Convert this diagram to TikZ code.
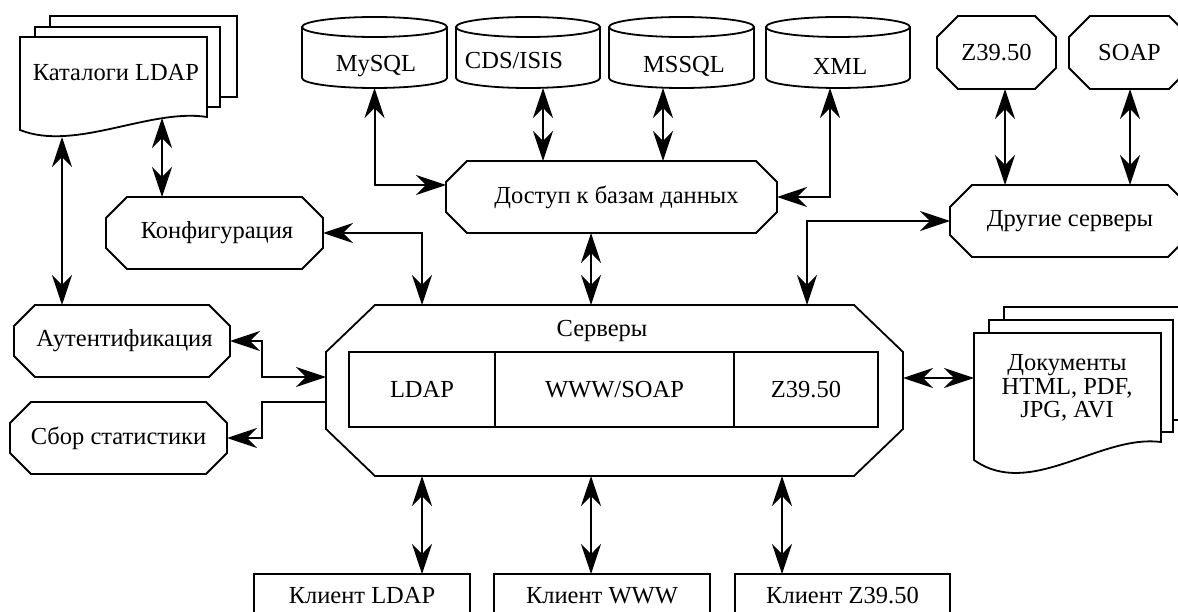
\documentclass[tikz,border=0pt]{standalone}
\usepackage{fontspec}
\setmainfont{Liberation Serif}
\usetikzlibrary{arrows.meta,calc}
\tikzset{
  outline/.style={line width=1.8pt},
  shapebox/.style 2 args={minimum width=#1pt, minimum height=#2pt, inner sep=0pt, outer sep=0pt},
  bighead/.tip={Stealth[length=30pt,width=20pt,inset=10pt]},
  thickconn/.style={line width=2pt, bighead-bighead},
  thinconn/.style={line width=1.4pt, bighead-bighead},
  oneway/.style={line width=2pt, -bighead},
  txt/.style={inner sep=0pt, align=center},
}
\newcommand\octpath[3]{%
  \draw[outline] ($(#1.north west)+(#2,0)$) -- ($(#1.north east)+(-#2,0)$)
    -- ($(#1.north east)+(0,#3)$) -- ($(#1.south east)+(0,-#3)$)
    -- ($(#1.south east)+(-#2,0)$) -- ($(#1.south west)+(#2,0)$)
    -- ($(#1.south west)+(0,-#3)$) -- ($(#1.north west)+(0,#3)$) -- cycle;}
\newcommand\dbcyl[2]{%
  \pgfmathsetmacro\cylC{(#1+#2)/2}%
  \pgfmathsetmacro\cylX{(#2-#1)/2}%
  \pgfmathsetmacro\cylK{0.5523*(#2-#1)/2}%
  \draw[outline] (#1,27) -- (#1,78) .. controls (#1,83.52) and (\cylC-\cylK,88) .. (\cylC,88)
    .. controls (\cylC+\cylK,88) and (#2,83.52) .. (#2,78) -- (#2,27);
  \draw[outline] (\cylC,27) ellipse [x radius=\cylX, y radius=10];}
\begin{document}
\begin{tikzpicture}[x=1pt,y=-1pt,font=\fontsize{24.5}{23.5}\selectfont]
\useasboundingbox (0,0) rectangle (1178,612);

% ---- Каталоги LDAP (multi-document)
\draw[outline,fill=white] (50,16) rectangle (237,97);
\draw[outline,fill=white] (35,27) rectangle (220,107);
\draw[outline,fill=white] (20,37) -- (207,37) -- (207,117)
  .. controls (150,108) and (75,152) .. (20,130) -- cycle;
\node[shapebox={187}{100}] (katalog) at (113.5,87) {};
\node[txt] (katalogT) at (116,73) {Каталоги LDAP};

% ---- Документы (multi-document)
\draw[outline,fill=white] (1004,307) rectangle (1192,420);
\draw[outline,fill=white] (989,320) rectangle (1173,432);
\draw[outline,fill=white] (974,333) -- (1161,333) -- (1161,442)
  .. controls (1100,434) and (1030,500) .. (974,460) -- cycle;
\node[shapebox={187}{141}] (docs) at (1067.5,403.5) {};
\node[txt] (docsT) at (1067,388) {Документы\\HTML, PDF,\\JPG, AVI};

% ---- databases
\dbcyl{302}{447}
\node[shapebox={145}{71}] (mysql) at (374.5,52.5) {};
\node[txt] (mysqlT) at (376,66) {MySQL};
\dbcyl{456}{600}
\node[shapebox={144}{71}] (cds) at (528,52.5) {};
\node[txt] (cdsT) at (514,61) {CDS/ISIS};
\dbcyl{609}{754}
\node[shapebox={145}{71}] (mssql) at (681.5,52.5) {};
\node[txt] (mssqlT) at (684,66) {MSSQL};
\dbcyl{766}{910}
\node[shapebox={144}{71}] (xml) at (838,52.5) {};
\node[txt] (xmlT) at (840,66) {XML};

% ---- octagons
\node[shapebox={119}{73}] (ztop) at (996.5,52.5) {Z39.50};
\octpath{ztop}{21}{21}
\node[shapebox={121}{73}] (soap) at (1129.5,52.5) {SOAP};
\octpath{soap}{21}{21}
\node[shapebox={331}{72}] (dost) at (611.5,197) {\hspace*{10pt}Доступ к базам данных};
\octpath{dost}{21}{21}
\node[shapebox={240}{72}] (drugie) at (1070,221) {Другие серверы};
\octpath{drugie}{22}{22}
\node[shapebox={217}{72}] (konf) at (214.5,233) {\hspace*{5pt}Конфигурация};
\octpath{konf}{21}{21}
\node[shapebox={216}{72}] (auth) at (122,341) {\hspace*{5pt}Аутентификация};
\octpath{auth}{21}{21}
\node[shapebox={217}{72}] (stat) at (118.5,438) {Сбор статистики};
\octpath{stat}{21}{21}

% ---- Серверы
\node[shapebox={577}{171}] (serv) at (614.5,390.5) {};
\octpath{serv}{49}{47}
\node[txt] (servT) at (602,331) {Серверы};
\node[shapebox={146}{75},draw,outline] (ldap) at (422,389.5) {LDAP};
\node[shapebox={239}{75},draw,outline] (www) at (614.5,389.5) {WWW/SOAP};
\node[shapebox={144}{75},draw,outline] (zsrv) at (806,389.5) {Z39.50};

% ---- clients
\node[shapebox={216}{44},draw,outline] (cl1) at (362,596) {Клиент LDAP};
\node[shapebox={216}{44},draw,outline] (cl2) at (602,596) {Клиент WWW};
\node[shapebox={215}{44},draw,outline] (cl3) at (842.5,596) {Клиент Z39.50};

% ---- connectors
\draw[thickconn] ([xshift=-51.5pt]katalog.south) -- ([xshift=-51.5pt]katalog.south |- auth.north);
\draw[thinconn] ([xshift=48.5pt,yshift=19pt]katalog.south) -- ([xshift=48.5pt]katalog.south |- konf.north);
\draw[thickconn] (mysql.south) |- ([yshift=12pt]dost.west);
\draw[thinconn] ([xshift=15pt]cds.south) -- ([xshift=15pt]cds.south |- dost.north);
\draw[thinconn] ([xshift=-18.5pt]mssql.south) -- ([xshift=-18.5pt]mssql.south |- dost.north);
\draw[thickconn] ([xshift=-8pt]xml.south) |- (dost.east);
\draw[thinconn] ([xshift=8.5pt]ztop.south) -- ([xshift=8.5pt]ztop.south |- drugie.north);
\draw[thinconn] ([xshift=0.5pt]soap.south) -- ([xshift=0.5pt]soap.south |- drugie.north);
\draw[thickconn] ([xshift=192.5pt]serv.north) |- (drugie.west);
\draw[thinconn] ([xshift=-20.5pt]dost.south) -- ([xshift=-20.5pt]dost.south |- serv.north);
\draw[thickconn] ([xshift=-192.5pt]serv.north) |- (konf.east);
\draw[thickconn] (auth.east) -- ++(32,0) |- ([yshift=13.5pt]serv.west);
\draw[oneway] ([yshift=-11.5pt]serv.west) -- ++(-64,0) |- (stat.east);
\draw[thinconn] ([yshift=12.5pt]serv.east) -- ([yshift=12.5pt]serv.east -| docs.west);
\draw[thinconn] ([xshift=60pt]cl1.north) -- ([xshift=60pt]cl1.north |- serv.south);
\draw[thinconn] ([xshift=-11pt]cl2.north) -- ([xshift=-11pt]cl2.north |- serv.south);
\draw[thinconn] ([xshift=-60.5pt]cl3.north) -- ([xshift=-60.5pt]cl3.north |- serv.south);
\end{tikzpicture}
\end{document}
